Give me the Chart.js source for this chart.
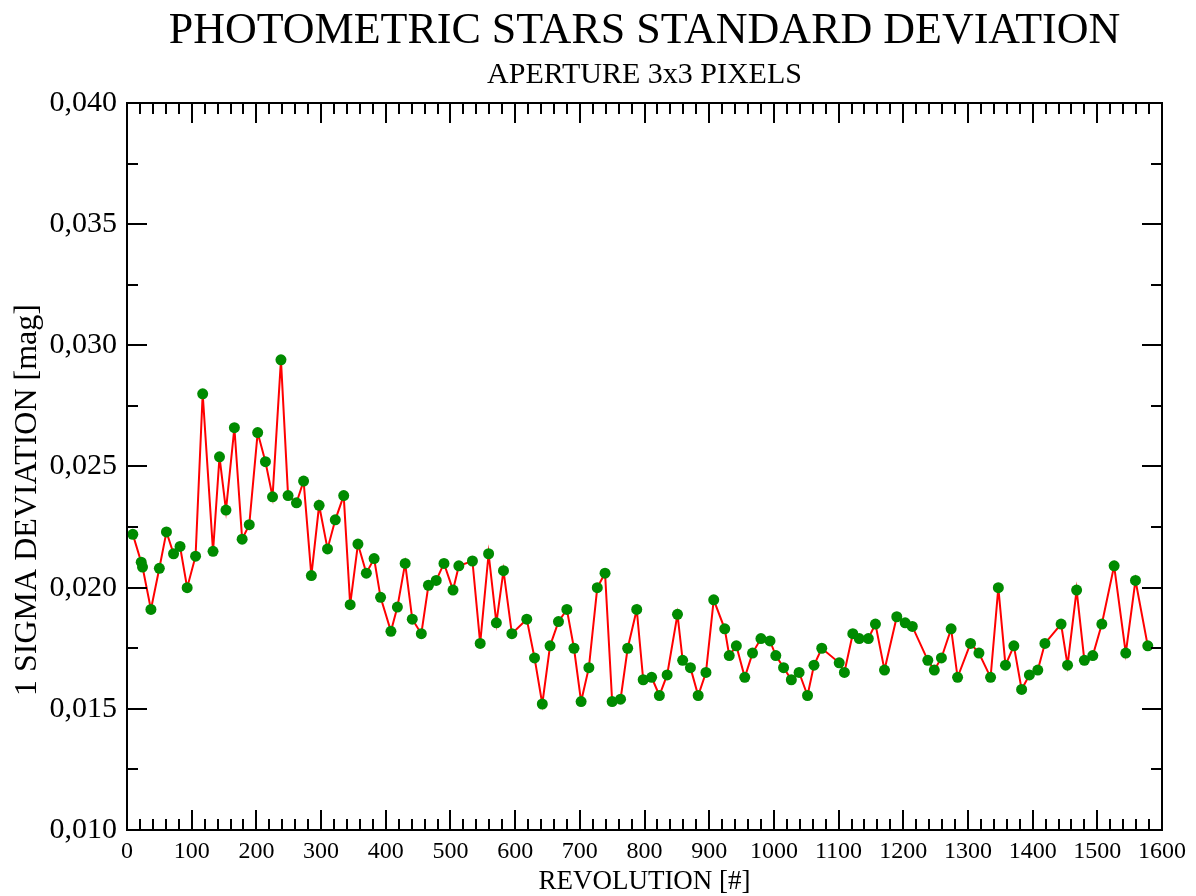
<!DOCTYPE html>
<html>
<head>
<meta charset="utf-8">
<script src="https://cdn.jsdelivr.net/npm/chart.js@4.4.1/dist/chart.umd.min.js"></script>
<style>
  html, body { margin:0; padding:0; background:#fff; }
  #wrap { width:1196px; height:896px; }
</style>
</head>
<body>
<div id="wrap"><canvas id="myChart"></canvas></div>
<script>
// revolution number
var revolutions = [9, 22, 24, 37, 50, 61, 72, 82, 93, 106, 117, 133, 143, 153, 166, 178, 189, 202, 214, 225,
  238, 249, 262, 273, 285, 297, 310, 322, 335, 345, 357, 370, 382, 392, 408, 418, 430, 441, 455, 466,
  478, 490, 504, 513, 534, 546, 559, 571, 582, 595, 618, 630, 642, 654, 667, 680, 691, 702, 714, 727,
  739, 750, 763, 774, 788, 798, 811, 823, 835, 851, 859, 871, 883, 895, 907, 924, 931, 942, 955, 967,
  980, 994, 1003, 1015, 1027, 1039, 1052, 1062, 1074, 1101, 1109, 1122, 1132, 1146, 1157, 1171, 1190, 1203, 1214, 1238,
  1248, 1259, 1274, 1284, 1304, 1317, 1335, 1347, 1358, 1371, 1383, 1395, 1408, 1419, 1444, 1454, 1468, 1480, 1493, 1507,
  1526, 1544, 1559, 1578];

// 1 sigma deviation [mag]
var sigma = [0.0222, 0.02105, 0.02085, 0.0191, 0.0208, 0.0223, 0.0214, 0.0217, 0.0200, 0.0213, 0.0280, 0.0215, 0.0254, 0.0232, 0.0266, 0.0220, 0.0226, 0.0264, 0.0252, 0.02375,
  0.0294, 0.0238, 0.0235, 0.0244, 0.0205, 0.0234, 0.0216, 0.0228, 0.0238, 0.0193, 0.0218, 0.0206, 0.0212, 0.0196, 0.0182, 0.0192, 0.0210, 0.0187, 0.0181, 0.0201,
  0.0203, 0.0210, 0.0199, 0.0209, 0.0211, 0.0177, 0.0214, 0.01855, 0.0207, 0.0181, 0.0187, 0.0171, 0.0152, 0.0176, 0.0186, 0.0191, 0.0175, 0.0153, 0.0167, 0.0200,
  0.0206, 0.0153, 0.0154, 0.0175, 0.0191, 0.0162, 0.0163, 0.01555, 0.0164, 0.0189, 0.0170, 0.0167, 0.01555, 0.0165, 0.0195, 0.0183, 0.0172, 0.0176, 0.0163, 0.0173,
  0.0179, 0.0178, 0.0172, 0.0167, 0.0162, 0.0165, 0.01555, 0.0168, 0.0175, 0.0169, 0.0165, 0.0181, 0.0179, 0.0179, 0.0185, 0.0166, 0.0188, 0.01855, 0.0184, 0.0170,
  0.0166, 0.0171, 0.0183, 0.0163, 0.0177, 0.0173, 0.0163, 0.0200, 0.0168, 0.0176, 0.0158, 0.0164, 0.0166, 0.0177, 0.0185, 0.0168, 0.0199, 0.0170, 0.0172, 0.0185,
  0.0209, 0.0173, 0.0203, 0.0176];

var xTicks = [0, 100, 200, 300, 400, 500, 600, 700, 800, 900, 1000, 1100, 1200, 1300, 1400, 1500, 1600];
var yTicks = [0.010, 0.015, 0.020, 0.025, 0.030, 0.035, 0.040];

var titleText = 'PHOTOMETRIC STARS STANDARD DEVIATION';
var subtitleText = 'APERTURE 3x3 PIXELS';
var yLabel = '1 SIGMA DEVIATION [mag]';

var points = [];
for (var i = 0; i < revolutions.length; i++) {
  points.push({x: revolutions[i], y: sigma[i]});
}

var serif = "'Liberation Serif', 'Times New Roman', serif";

// frame, inward ticks and the texts placed like the xmgrace plot
var frameTicks = {
  id: 'frameTicks',
  afterDraw: function(chart) {
    var ctx = chart.ctx, a = chart.chartArea;
    var xs = chart.scales.x, ys = chart.scales.y;
    ctx.save();
    ctx.strokeStyle = '#000';
    ctx.lineWidth = 2;
    ctx.strokeRect(a.left, a.top, a.right - a.left, a.bottom - a.top);
    ctx.beginPath();
    for (var v = 0; v <= 1600; v += 20) {
      var px = Math.round(xs.getPixelForValue(v));
      var len = (v % 100 === 0) ? 20 : 11;
      ctx.moveTo(px, a.bottom); ctx.lineTo(px, a.bottom - len);
      ctx.moveTo(px, a.top); ctx.lineTo(px, a.top + len);
    }
    for (var k = 0; k <= 12; k++) {
      var val = 0.010 + k * 0.0025;
      var py = Math.round(ys.getPixelForValue(val));
      var l2 = (k % 2 === 0) ? 20 : 11;
      ctx.moveTo(a.left, py); ctx.lineTo(a.left + l2, py);
      ctx.moveTo(a.right, py); ctx.lineTo(a.right - l2, py);
    }
    ctx.stroke();

    var cx = (a.left + a.right) / 2;
    ctx.fillStyle = '#000';
    ctx.textAlign = 'center';
    ctx.textBaseline = 'alphabetic';
    ctx.font = '44px ' + serif;
    ctx.fillText(titleText, cx, 43);
    ctx.font = '30px ' + serif;
    ctx.fillText(subtitleText, cx, 83);

    ctx.translate(28, 500);
    ctx.rotate(-Math.PI / 2);
    ctx.textBaseline = 'middle';
    ctx.font = '32px ' + serif;
    ctx.fillText(yLabel, 0, 0);
    ctx.restore();
  }
};

var myChart = new Chart(document.getElementById('myChart').getContext('2d'), {
  type: 'line',
  data: {
    datasets: [{
      data: points,
      borderColor: '#ff0000',
      borderWidth: 2,
      backgroundColor: '#008b00',
      pointBackgroundColor: '#008b00',
      pointBorderColor: '#008b00',
      pointBorderWidth: 0,
      pointRadius: 5.5,
      tension: 0,
      fill: false
    }]
  },
  options: {
    responsive: true,
    maintainAspectRatio: false,
    animation: false,
    layout: { padding: { left: 0, right: 34, top: 103, bottom: 0 } },
    plugins: {
      legend: { display: false },
      tooltip: { enabled: false },
      title: { display: false },
      subtitle: { display: false }
    },
    scales: {
      x: {
        type: 'linear',
        min: 0,
        max: 1600,
        grid: { display: false, drawTicks: false },
        border: { display: false },
        afterBuildTicks: function(scale) {
          scale.ticks = xTicks.map(function(v) { return {value: v}; });
        },
        ticks: {
          color: '#000',
          font: { family: serif, size: 24 },
          padding: 7,
          autoSkip: false,
          maxRotation: 0,
          callback: function(v) { return String(v); }
        },
        title: {
          display: true,
          text: 'REVOLUTION [#]',
          color: '#000',
          font: { family: serif, size: 27 },
          padding: { top: 0, bottom: -2 }
        },
        afterFit: function(scale) { scale.height = 66; }
      },
      y: {
        type: 'linear',
        min: 0.010,
        max: 0.040,
        grid: { display: false, drawTicks: false },
        border: { display: false },
        afterBuildTicks: function(scale) {
          scale.ticks = yTicks.map(function(v) { return {value: v}; });
        },
        ticks: {
          color: '#000',
          font: { family: serif, size: 30 },
          padding: 10,
          callback: function(v) { return v.toFixed(3).replace('.', ','); }
        },
        title: { display: false },
        afterFit: function(scale) { scale.width = 127; }
      }
    }
  },
  plugins: [frameTicks]
});
</script>
</body>
</html>
